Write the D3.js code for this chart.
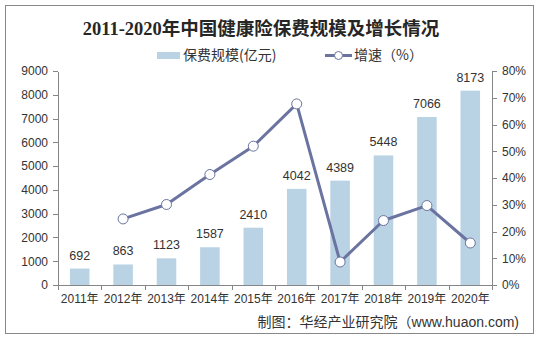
<!DOCTYPE html>
<html>
<head>
<meta charset="utf-8">
<script src="https://cdn.jsdelivr.net/npm/d3@7"></script>
<style>
  body { margin: 0; background: #fff; }
  .axis path, .axis line { stroke: #868686; shape-rendering: crispEdges; }
  .axis text { font-family: "Liberation Sans", Arial, "Noto Sans CJK SC", sans-serif; font-size: 12px; fill: #333; }
</style>
</head>
<body>
<div id="chart"></div>
<script>
var years = ["2011年", "2012年", "2013年", "2014年", "2015年", "2016年", "2017年", "2018年", "2019年", "2020年"];
var premium = [692, 863, 1123, 1587, 2410, 4042, 4389, 5448, 7066, 8173];
// growth rate in %, no value for the first year
var growth = [null, 24.7, 30.1, 41.3, 51.9, 67.7, 8.6, 24.1, 29.7, 15.7];
var leftTicks = [0, 1000, 2000, 3000, 4000, 5000, 6000, 7000, 8000, 9000];
var rightTicks = [0, 10, 20, 30, 40, 50, 60, 70, 80];

var svgWidth = 540;
var svgHeight = 340;

var margin = { top: 71, right: 48, bottom: 55, left: 58 };
var width = svgWidth - margin.left - margin.right;
var height = svgHeight - margin.top - margin.bottom;

var barColor = "#b9d3e5";
var lineColor = "#6b74a0";

var svg = d3.select("#chart")
  .append("svg")
  .attr("width", svgWidth)
  .attr("height", svgHeight);

// outer frame
svg.append("rect")
  .attr("x", 5.5)
  .attr("y", 5.5)
  .attr("width", 528)
  .attr("height", 328)
  .attr("fill", "none")
  .attr("stroke", "#888");

svg.append("text")
  .attr("x", 261)
  .attr("y", 35)
  .attr("text-anchor", "middle")
  .style("font-family", "'Liberation Serif', 'Noto Sans CJK SC', serif")
  .style("font-size", "18.5px")
  .style("font-weight", "bold")
  .attr("fill", "#262626")
  .text("2011-2020年中国健康险保费规模及增长情况");

var chartGroup = svg.append("g")
  .attr("transform", `translate(${margin.left}, ${margin.top})`);

var xScale = d3.scaleBand()
  .domain(years)
  .range([0, width])
  .paddingInner(0.55)
  .paddingOuter(0.275);

var yLeft = d3.scaleLinear().domain([0, 9000]).range([height, 0]);
var yRight = d3.scaleLinear().domain([0, 80]).range([height, 0]);

// x axis: labels centred under bars, ticks on category boundaries
var xAxis = chartGroup.append("g")
  .classed("axis", true)
  .attr("transform", `translate(0, ${height})`)
  .call(d3.axisBottom(xScale).tickSize(0).tickSizeOuter(0).tickPadding(9));

var step = xScale.step();
xAxis.selectAll(".bound")
  .data(d3.range(years.length + 1))
  .enter()
  .append("line")
  .classed("bound", true)
  .attr("x1", i => Math.round(i * step) + 0.5)
  .attr("x2", i => Math.round(i * step) + 0.5)
  .attr("y1", 0)
  .attr("y2", 5);

chartGroup.append("g")
  .classed("axis", true)
  .call(d3.axisLeft(yLeft).tickValues(leftTicks).tickSize(5).tickSizeOuter(0).tickPadding(5)
    .tickFormat(d3.format("d")));

chartGroup.append("g")
  .classed("axis", true)
  .attr("transform", `translate(${width}, 0)`)
  .call(d3.axisRight(yRight).tickValues(rightTicks).tickSize(5).tickSizeOuter(0).tickPadding(5)
    .tickFormat(d => d + "%"));

// bars
chartGroup.selectAll(".bar")
  .data(premium)
  .enter()
  .append("rect")
  .classed("bar", true)
  .attr("x", (d, i) => xScale(years[i]))
  .attr("y", d => yLeft(d))
  .attr("width", xScale.bandwidth())
  .attr("height", d => height - yLeft(d))
  .attr("fill", barColor);

chartGroup.selectAll(".barLabel")
  .data(premium)
  .enter()
  .append("text")
  .classed("barLabel", true)
  .attr("x", (d, i) => xScale(years[i]) + xScale.bandwidth() / 2)
  .attr("y", d => yLeft(d) - 9)
  .attr("text-anchor", "middle")
  .style("font-family", "'Liberation Sans', Arial, sans-serif")
  .style("font-size", "12.5px")
  .attr("fill", "#333")
  .text(d => d);

// growth line on the right axis
var points = growth.map((g, i) => ({ year: years[i], value: g })).filter(d => d.value !== null);

var line = d3.line()
  .x(d => xScale(d.year) + xScale.bandwidth() / 2)
  .y(d => yRight(d.value));

chartGroup.append("path")
  .datum(points)
  .attr("d", line)
  .attr("fill", "none")
  .attr("stroke", lineColor)
  .attr("stroke-width", 3)
  .attr("stroke-linejoin", "round");

chartGroup.selectAll(".dot")
  .data(points)
  .enter()
  .append("circle")
  .classed("dot", true)
  .attr("cx", d => xScale(d.year) + xScale.bandwidth() / 2)
  .attr("cy", d => yRight(d.value))
  .attr("r", 5)
  .attr("fill", "#fff")
  .attr("stroke", lineColor)
  .attr("stroke-width", 1);

// legend
var legend = svg.append("g")
  .style("font-family", "'Noto Sans CJK SC', sans-serif")
  .style("font-size", "14px");

legend.append("rect")
  .attr("x", 157)
  .attr("y", 52)
  .attr("width", 23)
  .attr("height", 7)
  .attr("fill", barColor);

legend.append("text")
  .attr("x", 183)
  .attr("y", 60)
  .attr("fill", "#333")
  .text("保费规模(亿元)");

legend.append("line")
  .attr("x1", 325)
  .attr("x2", 352)
  .attr("y1", 55.5)
  .attr("y2", 55.5)
  .attr("stroke", lineColor)
  .attr("stroke-width", 3);

legend.append("circle")
  .attr("cx", 338.5)
  .attr("cy", 55.5)
  .attr("r", 4)
  .attr("fill", "#fff")
  .attr("stroke", lineColor);

legend.append("text")
  .attr("x", 354)
  .attr("y", 60)
  .attr("fill", "#333")
  .text("增速（%）");

svg.append("text")
  .attr("x", 519)
  .attr("y", 327)
  .attr("text-anchor", "end")
  .style("font-family", "'Liberation Sans', Arial, 'Noto Sans CJK SC', sans-serif")
  .style("font-size", "14px")
  .attr("fill", "#333")
  .text("制图：华经产业研究院（www.huaon.com)");
</script>
</body>
</html>
